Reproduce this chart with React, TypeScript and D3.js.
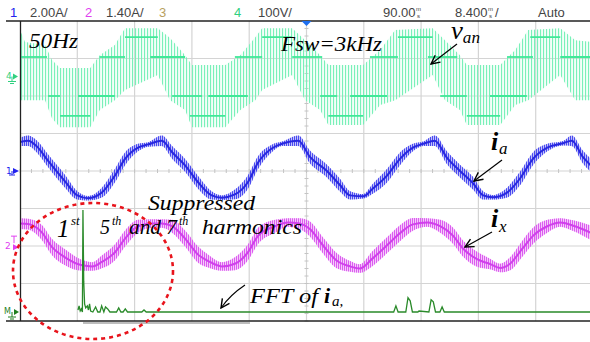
import React from "react";
import * as d3 from "d3";

const W = 590;
const H = 342;
const X0 = 20;
const X1 = 593;
const Y0 = 21;
const Y1 = 321;
const DIV_X = (X1 - X0) / 10;
const DIV_Y = (Y1 - Y0) / 8;

// time base 8.4 ms/div, 10 divisions
const TIME_SPAN = [0, 84];

// channel offsets in divisions from screen centre
const CH1_OFFSET = 0;
const CH2_OFFSET = -2.03;
const CH4_OFFSET = 2.52;

// CH1 i_a : [t (ms), A, ripple half-width (A)]
const iaTrace: [number, number, number][] = [
  [0, 1.55, 0.22], [1.2, 1.62, 0.28], [2.5, 1.3, 0.32], [4.1, 0.55, 0.34],
  [6.6, -0.55, 0.34], [8.4, -1.3, 0.22], [10.0, -1.45, 0.12], [12.0, -1.15, 0.26],
  [13.9, -0.25, 0.36], [15.4, 0.65, 0.34], [17.3, 1.25, 0.2], [18.8, 1.42, 0.12],
  [20.8, 1.62, 0.28], [22.3, 1.0, 0.34], [24.2, 0.3, 0.34], [26.1, -0.6, 0.34],
  [28.1, -1.3, 0.22], [29.6, -1.42, 0.12], [31.5, -1.25, 0.26], [33.4, -0.6, 0.36],
  [34.9, 0.45, 0.34], [36.9, 1.2, 0.2], [38.4, 1.45, 0.12], [40.8, 1.62, 0.28],
  [42.5, 0.75, 0.34], [45.0, 0.0, 0.34], [46.9, -0.75, 0.34], [48.4, -1.3, 0.22],
  [50.3, -1.35, 0.12], [51.7, -0.95, 0.26], [53.8, -0.25, 0.36], [55.7, 0.65, 0.34],
  [57.6, 1.25, 0.2], [59.1, 1.45, 0.12], [60.8, 1.62, 0.28], [62.6, 0.7, 0.34],
  [64.5, 0.0, 0.34], [66.4, -0.65, 0.34], [67.9, -1.3, 0.22], [69.3, -1.4, 0.12],
  [71.4, -1.15, 0.26], [73.3, -0.4, 0.36], [75.2, 0.65, 0.34], [77.3, 1.25, 0.2],
  [79.6, 1.48, 0.12], [80.9, 1.62, 0.28], [82.5, 0.75, 0.34], [84.0, 0.2, 0.34],
];

// CH2 i_x : [t (ms), A, ripple half-width (A)]
const ixTrace: [number, number, number][] = [
  [0, 0.88, 0.2], [1.2, 0.86, 0.2], [3.2, 0.55, 0.28], [4.7, 0.0, 0.3],
  [6.6, -0.38, 0.3], [9.1, -0.68, 0.2], [10.6, -0.72, 0.16], [12.0, -0.55, 0.24],
  [13.9, -0.2, 0.3], [15.4, 0.32, 0.3], [17.3, 0.78, 0.24], [19.4, 0.88, 0.16],
  [20.8, 0.88, 0.16], [22.3, 0.78, 0.24], [24.2, 0.32, 0.3], [26.1, -0.28, 0.3],
  [27.6, -0.52, 0.24], [29.6, -0.72, 0.16], [31.5, -0.62, 0.24], [33.4, -0.2, 0.3],
  [34.9, 0.42, 0.3], [37.4, 0.78, 0.24], [39.3, 0.92, 0.16], [41.0, 0.88, 0.2],
  [42.5, 0.68, 0.28], [44.4, 0.07, 0.3], [46.5, -0.52, 0.28], [48.4, -0.72, 0.2],
  [49.8, -0.8, 0.16], [51.7, -0.42, 0.28], [53.8, 0.07, 0.3], [55.7, 0.52, 0.3],
  [57.6, 0.85, 0.24], [59.7, 0.92, 0.16], [61.6, 0.78, 0.24], [63.5, 0.42, 0.3],
  [64.9, -0.04, 0.3], [67.0, -0.45, 0.28], [68.9, -0.63, 0.2], [70.4, -0.78, 0.16],
  [71.8, -0.63, 0.24], [73.7, -0.04, 0.3], [75.2, 0.42, 0.3], [77.3, 0.78, 0.24],
  [79.2, 0.92, 0.16], [81.1, 0.8, 0.2], [84.0, 0.5, 0.28],
];

// CH4 v_an plateau levels : [t start, t end, V]
const vanPlateaus: [number, number, number][] = [
  [0, 3.96, 52], [4.1, 5.86, -52], [5.86, 10.3, -105], [8.5, 13.9, -52],
  [11.7, 15.4, 52], [15.4, 20.2, 105], [19.1, 24.2, 52], [22.3, 26.7, -52],
  [24.9, 30.1, -105], [27.6, 33.4, -52], [31.5, 35.5, 52], [35.5, 39.9, 105],
  [39.9, 44.3, 52], [44.0, 46.5, -52], [45.2, 50.3, -105], [48.4, 53.8, -52],
  [51.3, 55.4, 52], [55.4, 60.5, 105], [59.8, 64.1, 52], [61.6, 65.5, -52],
  [65.5, 70.4, -105], [68.9, 74.3, -52], [71.4, 75.2, 52], [74.8, 79.2, 105],
  [79.2, 84.0, 52],
];

// CH4 v_an switching envelope : [t, top V, bottom V]
const vanEnvelope: [number, number, number][] = [
  [0, 124, -63], [0.73, 92, -63], [3.67, 84, -63], [4.69, 44, -111],
  [5.86, 23, -135], [10.3, 23, -135], [11.7, 57, -89], [13.9, 84, -63],
  [15.4, 129, -36], [20.2, 129, 4], [22.0, 103, -63], [24.2, 57, -89],
  [25.2, 31, -135], [30.1, 31, -135], [32.3, 57, -89], [34.5, 105, -63],
  [35.5, 129, -36], [39.9, 129, 4], [41.8, 97, -63], [44.0, 57, -89],
  [45.2, 31, -129], [50.3, 31, -129], [52.8, 71, -76], [55.0, 124, -63],
  [60.5, 129, 4], [62.3, 97, -63], [64.5, 57, -89], [65.5, 31, -129],
  [70.4, 31, -129], [72.6, 71, -76], [74.5, 124, -63], [79.2, 129, 4],
  [81.4, 97, -63], [84.0, 92, -63],
];

// FFT of i_a : [Hz, % of fundamental]
const fftSpectrum: [number, number][] = [
  [0, 2], [10, 6], [20, 1], [30, 3], [40, 0], [45, 100], [52, 30], [60, 8],
  [70, 4], [85, 6], [95, 2], [105, 8], [115, 1], [135, 0], [160, 5], [180, 0],
  [200, 0], [215, 6], [235, 0], [250, 5], [270, 3], [290, 0], [350, 0], [370, 4],
  [390, 0], [410, 0], [430, 3], [450, 0], [580, 0], [600, 2], [620, 0],
  [2870, 0], [2890, 6], [2910, 0], [2980, 0], [3000, 14], [3020, 11], [3040, 0],
  [3090, 0], [3100, 1], [3190, 0], [3210, 12], [3230, 10], [3250, 0], [3290, 0],
  [3310, 5], [3330, 0], [5000, 0],
];

const headerItems = [
  { text: "1", x: 10, color: "#2222ee" },
  { text: "2.00A/", x: 30, color: "#444" },
  { text: "2", x: 85, color: "#e040f0" },
  { text: "1.40A/", x: 106, color: "#444" },
  { text: "3", x: 159, color: "#b8a060" },
  { text: "4", x: 234, color: "#30d080" },
  { text: "100V/", x: 258, color: "#444" },
  { text: "90.00", x: 383, color: "#444" },
  { text: "8.400", x: 455, color: "#444" },
  { text: "Auto", x: 538, color: "#444" },
];

function chScale(unitsPerDiv: number, offsetDiv: number) {
  return d3
    .scaleLinear()
    .domain([(-4 - offsetDiv) * unitsPerDiv, (4 - offsetDiv) * unitsPerDiv])
    .range([Y1, Y0]);
}

export default function App() {
  const x = d3.scaleLinear().domain(TIME_SPAN).range([X0, X1]);
  const y1 = chScale(2.0, CH1_OFFSET);
  const y2 = chScale(1.4, CH2_OFFSET);
  const y4 = chScale(100, CH4_OFFSET);
  const fx = d3.scaleLinear().domain([0, 5000]).range([78, 628]);
  const fy = d3.scaleLinear().domain([0, 100]).range([312, 210]);

  const band = (ys: d3.ScaleLinear<number, number>) =>
    d3
      .area<[number, number, number]>()
      .x((d) => x(d[0]))
      .y0((d) => ys(d[1] - d[2]))
      .y1((d) => ys(d[1] + d[2]))
      .curve(d3.curveMonotoneX);
  const mid = (ys: d3.ScaleLinear<number, number>) =>
    d3
      .line<[number, number, number]>()
      .x((d) => x(d[0]))
      .y((d) => ys(d[1]))
      .curve(d3.curveMonotoneX);

  const vanArea = d3
    .area<[number, number, number]>()
    .x((d) => x(d[0]))
    .y0((d) => y4(d[2]))
    .y1((d) => y4(d[1]));

  const fftLine = d3
    .line<[number, number]>()
    .x((d) => fx(d[0]))
    .y((d) => fy(d[1]));

  const vGrid = d3.range(1, 10).map((i) => X0 + i * DIV_X);
  const hGrid = d3.range(1, 8).map((j) => Y0 + j * DIV_Y);
  const cx = X0 + 5 * DIV_X;
  const cy = Y0 + 4 * DIV_Y;
  const hTicks = d3.range(0, 51).map((i) => X0 + (i * DIV_X) / 5);
  const vTicks = d3.range(0, 41).map((j) => Y0 + (j * DIV_Y) / 5);

  const serif = "'Liberation Serif', 'Times New Roman', serif";

  return (
    <svg
      width={W}
      height={H}
      style={{ position: "fixed", left: 0, top: 0, background: "#fff" }}
      fontFamily={serif}
    >
      <defs>
        <pattern id="stripeG" width="3" height="4" patternUnits="userSpaceOnUse">
          <rect width="1.1" height="4" fill="#7af0b9" />
        </pattern>
        <pattern id="stripeB" width="2" height="4" patternUnits="userSpaceOnUse">
          <rect width="1" height="4" fill="#4a4af0" />
        </pattern>
        <pattern id="stripeM" width="2" height="4" patternUnits="userSpaceOnUse">
          <rect width="1" height="4" fill="#dc5cf0" />
        </pattern>
        <marker id="arr" viewBox="0 0 10 10" refX="9" refY="5" markerWidth="9" markerHeight="9" orient="auto">
          <path d="M1,1 L9,5 L1,9" fill="none" stroke="#000" strokeWidth="1.3" />
        </marker>
        <clipPath id="plot">
          <rect x={X0} y={Y0} width={X1 - X0} height={Y1 - Y0} />
        </clipPath>
      </defs>
      <rect width={W} height={H} fill="#fff" />

      {/* grid */}
      <g stroke="#d4d4d4" strokeWidth={1.2}>
        {vGrid.map((gx, i) => (
          <line key={"v" + i} x1={gx} x2={gx} y1={Y0} y2={Y1} />
        ))}
        {hGrid.map((gy, i) => (
          <line key={"h" + i} x1={X0} x2={X1} y1={gy} y2={gy} />
        ))}
      </g>
      <g stroke="#c4c4c4" strokeWidth={1}>
        {hTicks.map((tx, i) => (
          <line key={"ht" + i} x1={tx} x2={tx} y1={cy - 2} y2={cy + 2} />
        ))}
        {vTicks.map((ty, i) => (
          <line key={"vt" + i} x1={cx - 2} x2={cx + 2} y1={ty} y2={ty} />
        ))}
      </g>

      <g clipPath="url(#plot)">
        {/* CH4 v_an */}
        <path d={vanArea(vanEnvelope) || ""} fill="#c8fae2" opacity={0.2} />
        <path d={vanArea(vanEnvelope) || ""} fill="url(#stripeG)" />
        <g stroke="#40e898" strokeWidth={1.8}>
          {vanPlateaus.map((p, i) => (
            <line key={"p" + i} x1={x(p[0])} x2={x(p[1])} y1={y4(p[2])} y2={y4(p[2])} />
          ))}
        </g>

        {/* CH1 i_a */}
        <path d={band(y1)(iaTrace) || ""} fill="#8a8af4" opacity={0.5} />
        <path d={band(y1)(iaTrace) || ""} fill="url(#stripeB)" />
        <path d={mid(y1)(iaTrace) || ""} fill="none" stroke="#2828e0" strokeWidth={2} />

        {/* CH2 i_x */}
        <path d={band(y2)(ixTrace) || ""} fill="#ea9cf6" opacity={0.5} />
        <path d={band(y2)(ixTrace) || ""} fill="url(#stripeM)" />
        <path d={mid(y2)(ixTrace) || ""} fill="none" stroke="#d040ec" strokeWidth={2} />

        {/* FFT */}
        <path d={fftLine(fftSpectrum) || ""} fill="none" stroke="#2a8a2a" strokeWidth={1.3} />
      </g>

      {/* frame */}
      <line x1={6} x2={W} y1={Y0} y2={Y0} stroke="#222" strokeWidth={1.3} />
      <line x1={6} x2={W} y1={Y1} y2={Y1} stroke="#222" strokeWidth={1.3} />
      <line x1={X0 + 0.5} x2={X0 + 0.5} y1={Y0} y2={Y1} stroke="#222" strokeWidth={1.3} />
      <line x1={83} x2={250} y1={323} y2={323} stroke="#bdbdbd" strokeWidth={2} />
      <path d={`M${cx - 5},${Y0} L${cx + 5},${Y0} L${cx},${Y0 + 5} Z`} fill="#1e6ff0" />

      {/* header */}
      <g fontFamily="'Liberation Sans', Arial, sans-serif" fontSize={13}>
        {headerItems.map((h, i) => (
          <text key={i} x={h.x} y={16.5} fill={h.color}>
            {h.text}
          </text>
        ))}
        <text fontSize={6} fill="#444">
          <tspan x={416} y={11}>m</tspan>
          <tspan x={417} y={17.5}>s</tspan>
        </text>
        <text fontSize={6} fill="#444">
          <tspan x={488} y={11}>m</tspan>
          <tspan x={489} y={17.5}>s</tspan>
        </text>
        <text x={495} y={16.5} fill="#444">/</text>
      </g>

      {/* channel markers */}
      <g fontFamily="'DejaVu Sans', sans-serif" fontSize={9}>
        <text x={6} y={y4(0) + 2} fill="#30d080">4</text>
        <path d={`M13,${y4(0) - 3} L18,${y4(0)} L13,${y4(0) + 3} Z`} fill="#30d080" />
        <path d={`M12,${y4(0)} V${y4(0) + 5} M8,${y4(0) + 5} H16 M10,${y4(0) + 7} H14`} stroke="#30d080" fill="none" />
        <text x={6} y={y1(0) + 3} fill="#2222ee">1</text>
        <path d={`M13,${y1(0) - 3} L19,${y1(0)} L13,${y1(0) + 3} Z`} fill="#2222ee" />
        <path d={`M12,${y1(0)} V${y1(0) + 4} M9,${y1(0) + 4} H15`} stroke="#2222ee" fill="none" />
        <text x={5} y={y2(0) + 2} fill="#e040f0">2</text>
        <path d={`M11,${y2(0) - 11} H17 M14,${y2(0) - 11} V${y2(0) - 4}`} stroke="#e040f0" fill="none" />
        <path d={`M13,${y2(0) - 3} L19,${y2(0)} L13,${y2(0) + 3} Z`} fill="#e040f0" />
        <text x={4} y={fy(0) + 2} fill="#1f7f1f" fontSize={8}>M</text>
        <path d={`M14,${fy(0) - 3} L19,${fy(0)} L14,${fy(0) + 3} Z`} fill="#1f7f1f" />
        <path d={`M12,${fy(0)} V${fy(0) + 5} M8,${fy(0) + 5} H16 M10,${fy(0) + 7} H14`} stroke="#1f7f1f" fill="none" />
      </g>

      {/* annotations */}
      <g fontStyle="italic" fill="#000">
        <text x={29} y={48} fontSize={21} textLength={49} lengthAdjust="spacingAndGlyphs">50Hz</text>
        <text x={281} y={51} fontSize={21} textLength={101} lengthAdjust="spacingAndGlyphs">Fsw=3kHz</text>
        <text x={451} y={39} fontSize={22} textLength={29} lengthAdjust="spacingAndGlyphs">
          <tspan fontSize={25}>v</tspan>
          <tspan fontSize={16} dy={4}>an</tspan>
        </text>
        <text x={491} y={150} fontSize={26} fontWeight="bold">i</text>
        <text x={499} y={154} fontSize={17}>a</text>
        <text x={491} y={227} fontSize={26} fontWeight="bold">i</text>
        <text x={499} y={232} fontSize={17}>x</text>
        <text x={148} y={210} fontSize={20} textLength={107} lengthAdjust="spacingAndGlyphs">Suppressed</text>
        <text x={57} y={237} fontSize={25}>1</text>
        <text x={71} y={225} fontSize={13}>st</text>
        <text x={100} y={234} fontSize={20}>5</text>
        <text x={112} y={225} fontSize={12}>th</text>
        <text x={129} y={234} fontSize={20} textLength={48} lengthAdjust="spacingAndGlyphs">and 7</text>
        <text x={179} y={225} fontSize={12}>th</text>
        <text x={202} y={234} fontSize={20} textLength={100} lengthAdjust="spacingAndGlyphs">harmonics</text>
        <text x={250} y={303} fontSize={20} textLength={68} lengthAdjust="spacingAndGlyphs">FFT of</text>
        <text x={324} y={303} fontSize={22} fontWeight="bold">i</text>
        <text x={332} y={306} fontSize={15}>a,</text>
      </g>
      <g stroke="#000" strokeWidth={1.2} fill="none">
        <line x1={457} y1={44} x2={431} y2={64} markerEnd="url(#arr)" />
        <line x1={502} y1={160} x2={474} y2={181} markerEnd="url(#arr)" />
        <line x1={492} y1={232} x2={465} y2={247} markerEnd="url(#arr)" />
        <path d="M245,285 Q230,295 221,308" markerEnd="url(#arr)" />
      </g>

      <ellipse cx={93} cy={271} rx={80} ry={68} fill="none" stroke="#e8141c" strokeWidth={2.6} strokeDasharray="4 4" />
    </svg>
  );
}
